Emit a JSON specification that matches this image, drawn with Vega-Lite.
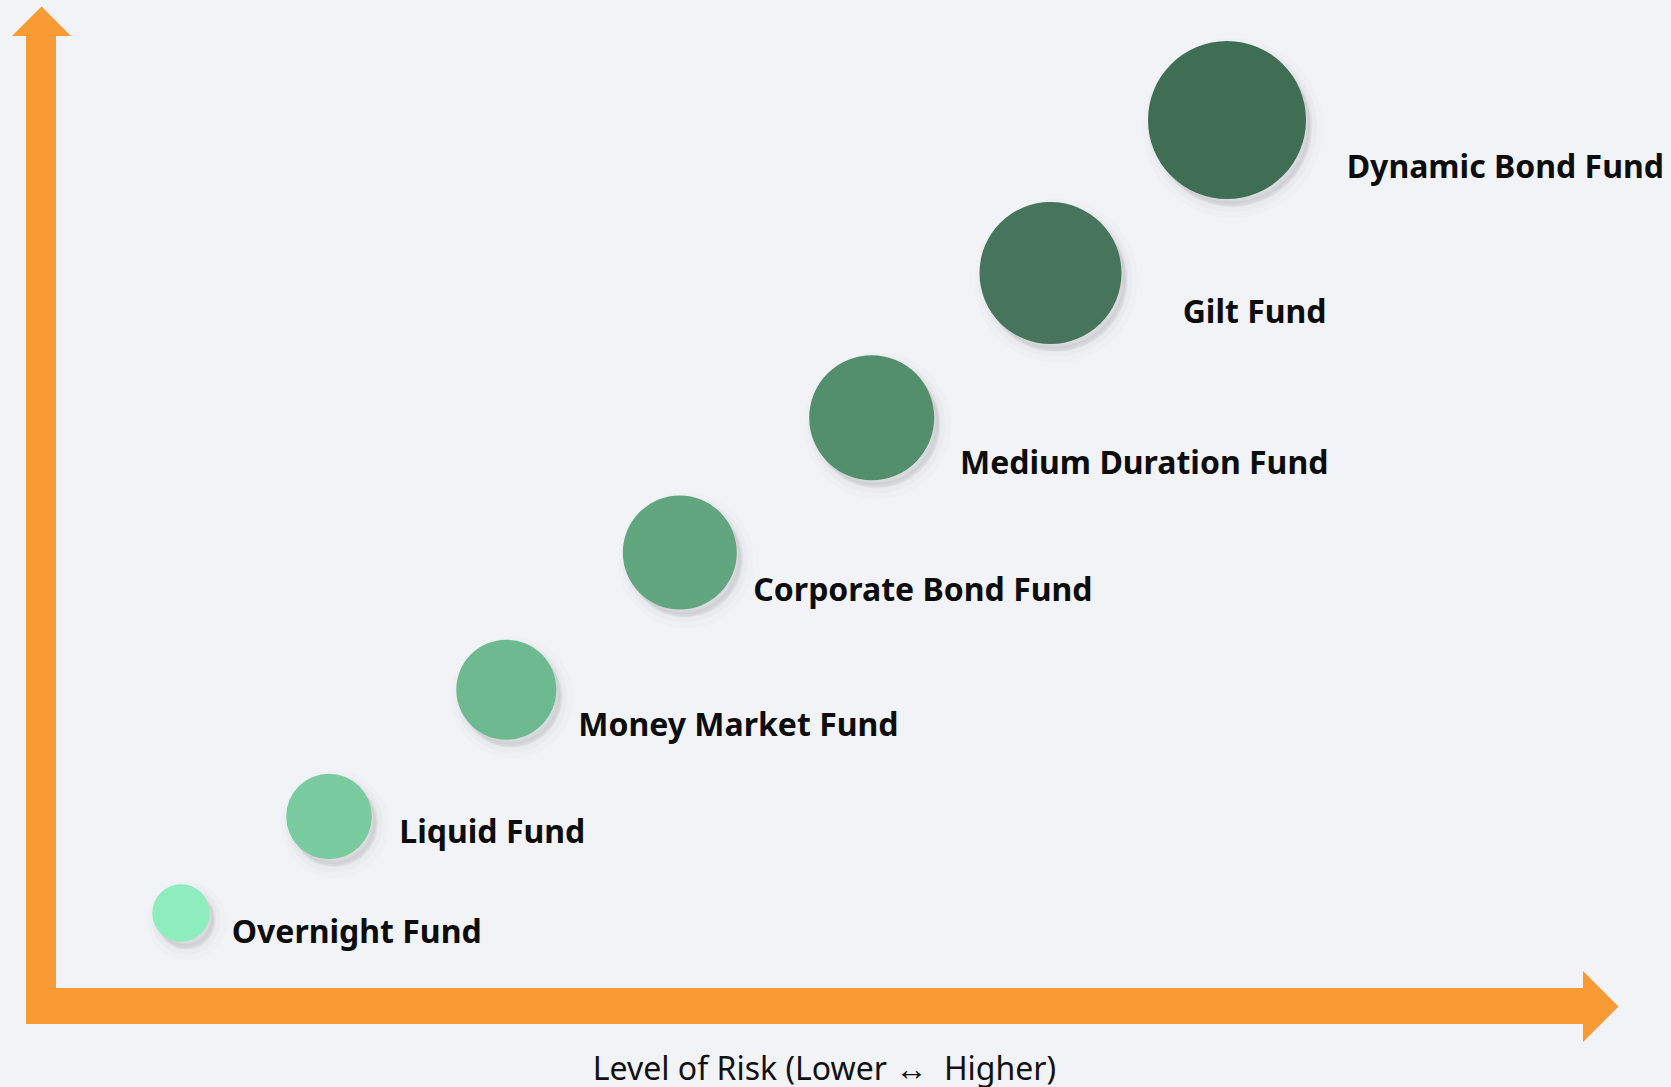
{
  "$schema": "https://vega.github.io/schema/vega-lite/v6.json",
  "width": 1671,
  "height": 1087,
  "autosize": "none",
  "padding": 0,
  "background": "#f2f3f7",
  "config": {"view": {"stroke": null}},
  "datasets": {
    "funds": [
      {"fund": "Overnight Fund", "risk": 1, "x": 1.40, "y": 0.93, "lx": 1.907, "ly": 0.63},
      {"fund": "Liquid Fund", "risk": 2, "x": 2.88, "y": 1.895, "lx": 3.583, "ly": 1.627},
      {"fund": "Money Market Fund", "risk": 3, "x": 4.653, "y": 3.163, "lx": 5.373, "ly": 2.70},
      {"fund": "Corporate Bond Fund", "risk": 4, "x": 6.388, "y": 4.535, "lx": 7.123, "ly": 4.05},
      {"fund": "Medium Duration Fund", "risk": 5, "x": 8.307, "y": 5.883, "lx": 9.19, "ly": 5.317},
      {"fund": "Gilt Fund", "risk": 6, "x": 10.095, "y": 7.33, "lx": 11.417, "ly": 6.827},
      {"fund": "Dynamic Bond Fund", "risk": 7, "x": 11.86, "y": 8.86, "lx": 13.057, "ly": 8.277}
    ],
    "hshaft": [{"x": -0.15, "x2": 15.42, "y": 0}],
    "vshaft": [{"x": 0, "y": -0.18, "y2": 9.70}],
    "uphead": [{"x": 0.005, "y": 9.70}],
    "righthead": [{"x": 15.42, "y": -0.005}]
  },
  "encoding": {
    "x": {
      "field": "x", "type": "quantitative",
      "scale": {"domain": [-0.41, 16.30], "nice": false, "zero": false},
      "axis": {
        "domain": false, "ticks": false, "labels": false, "grid": false,
        "title": "Level of Risk (Lower ↔\u00a0 Higher)",
        "titleFont": "Noto Sans", "titleFontSize": 32, "titleFontWeight": "normal",
        "titleColor": "#111111", "titleX": 824, "titleY": -8,
        "titleBaseline": "alphabetic", "titleAlign": "center"
      }
    },
    "y": {
      "field": "y", "type": "quantitative",
      "scale": {"domain": [-0.81, 10.06], "nice": false, "zero": false},
      "axis": null
    }
  },
  "layer": [
    {
      "data": {"name": "hshaft"},
      "mark": {"type": "rule", "color": "#f89b34", "strokeWidth": 36, "strokeCap": "butt"},
      "encoding": {"x2": {"field": "x2"}}
    },
    {
      "data": {"name": "vshaft"},
      "mark": {"type": "rule", "color": "#f89b34", "strokeWidth": 30, "strokeCap": "butt"},
      "encoding": {"y2": {"field": "y2"}}
    },
    {
      "data": {"name": "uphead"},
      "mark": {"type": "point", "filled": true, "opacity": 1, "color": "#f89b34", "shape": "M-1,0L1,0L0,-1Z", "size": 3481},
      "encoding": {}
    },
    {
      "data": {"name": "righthead"},
      "mark": {"type": "point", "filled": true, "opacity": 1, "color": "#f89b34", "shape": "M0,-1L1,0L0,1Z", "size": 5041},
      "encoding": {}
    },
    {
      "data": {"name": "funds"},
      "mark": {"type": "point", "filled": true, "shape": "circle", "color": "#000000", "opacity": 1, "fillOpacity": 0.02, "stroke": "#000000", "strokeWidth": 22, "strokeOpacity": 0.012, "xOffset": 6, "yOffset": 8},
      "encoding": {
        "size": {"field": "risk", "type": "ordinal", "scale": {"type": "ordinal", "domain": [1,2,3,4,5,6,7], "range": [3295, 7327, 10000, 12996, 15625, 20164, 24964]}, "legend": null}
      }
    },
    {
      "data": {"name": "funds"},
      "mark": {"type": "point", "filled": true, "shape": "circle", "color": "#000000", "opacity": 1, "fillOpacity": 0.03, "stroke": "#000000", "strokeWidth": 12, "strokeOpacity": 0.02, "xOffset": 5, "yOffset": 7},
      "encoding": {
        "size": {"field": "risk", "type": "ordinal", "scale": {"type": "ordinal", "domain": [1,2,3,4,5,6,7], "range": [3295, 7327, 10000, 12996, 15625, 20164, 24964]}, "legend": null}
      }
    },
    {
      "data": {"name": "funds"},
      "mark": {"type": "point", "filled": true, "shape": "circle", "color": "#000000", "opacity": 1, "fillOpacity": 0.03, "stroke": "#000000", "strokeWidth": 5, "strokeOpacity": 0.025, "xOffset": 4, "yOffset": 5},
      "encoding": {
        "size": {"field": "risk", "type": "ordinal", "scale": {"type": "ordinal", "domain": [1,2,3,4,5,6,7], "range": [3295, 7327, 10000, 12996, 15625, 20164, 24964]}, "legend": null}
      }
    },
    {
      "data": {"name": "funds"},
      "mark": {"type": "point", "filled": true, "shape": "circle", "opacity": 1, "strokeWidth": 0},
      "encoding": {
        "size": {"field": "risk", "type": "ordinal", "scale": {"type": "ordinal", "domain": [1,2,3,4,5,6,7], "range": [3295, 7327, 10000, 12996, 15625, 20164, 24964]}, "legend": null},
        "color": {"field": "risk", "type": "ordinal", "scale": {"domain": [1,2,3,4,5,6,7], "range": ["#8dedbd", "#7acca0", "#6dba91", "#62a67f", "#548f6d", "#47745c", "#406e55"]}, "legend": null}
      }
    },
    {
      "data": {"name": "funds"},
      "mark": {"type": "text", "font": "Noto Sans", "fontSize": 32, "fontWeight": "bold", "align": "left", "baseline": "alphabetic", "color": "#0d0d0d"},
      "encoding": {
        "x": {"field": "lx", "type": "quantitative"},
        "y": {"field": "ly", "type": "quantitative"},
        "text": {"field": "fund"}
      }
    }
  ]
}
